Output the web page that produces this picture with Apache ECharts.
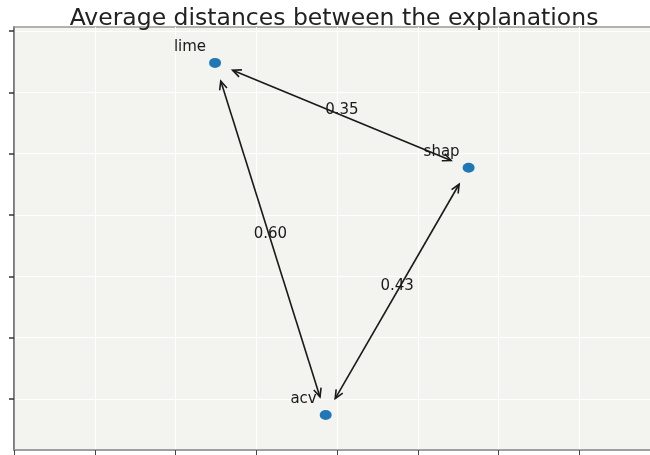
<!DOCTYPE html>
<html>
<head>
<meta charset="utf-8">
<script src="https://cdn.jsdelivr.net/npm/echarts@6/dist/echarts.min.js"></script>
<style>html,body{margin:0;padding:0;background:#fff}#c{width:650px;height:455px}</style>
</head>
<body>
<div id="c"></div>
<script>
// ---- data ----
var names = ['lime', 'shap', 'acv'];
var xs = [2.49, 5.63, 3.86];
var ys = [5.48, 3.77, -0.26];
var pairFrom = ['lime', 'lime', 'shap'];
var pairTo = ['shap', 'acv', 'acv'];
var distances = [0.35, 0.60, 0.43];
var xTicks = [0, 1, 2, 3, 4, 5, 6, 7, 8];
var yTicks = [0, 1, 2, 3, 4, 5, 6];

var FONT = 'DejaVu Sans';
var chart = echarts.init(document.getElementById('c'), null, {renderer: 'canvas'});

var pointData = names.map(function (n, i) { return {name: n, value: [xs[i], ys[i]]}; });
var arrowData = pairFrom.map(function (f, i) {
  var a = names.indexOf(f), b = names.indexOf(pairTo[i]);
  return [xs[a], ys[a], xs[b], ys[b], distances[i]];
});

function head(tip, dirx, diry) {
  var L = 8.5, W = 3.8;
  var px = -diry, py = dirx;
  return [
    [tip[0] - dirx * L + px * W, tip[1] - diry * L + py * W],
    tip,
    [tip[0] - dirx * L - px * W, tip[1] - diry * L - py * W]
  ];
}

var option = {
  animation: false,
  backgroundColor: '#ffffff',
  title: {
    text: 'Average distances between the explanations',
    left: 329, top: 2, textAlign: 'center',
    textStyle: {fontFamily: FONT, fontSize: 23.5, fontWeight: 'normal', color: '#222'}
  },
  grid: {
    left: 14, top: 27, width: 646, height: 423,
    outerBoundsMode: 'none', containLabel: false,
    show: true, backgroundColor: '#f3f3ef', borderColor: '#9a9a9a', borderWidth: 1.5
  },
  xAxis: {
    type: 'value', min: 0, max: 8, interval: 1,
    axisLine: {show: true, onZero: false, lineStyle: {color: '#9a9a9a', width: 1.5}},
    axisTick: {show: true, length: 5, lineStyle: {color: '#444', width: 1}, customValues: xTicks},
    axisLabel: {show: false},
    splitLine: {show: true, lineStyle: {color: '#ffffff', width: 1}, customValues: xTicks}
  },
  yAxis: {
    type: 'value', min: -0.83, max: 6.065,
    axisLine: {show: true, onZero: false, lineStyle: {color: '#666', width: 1.5}},
    axisTick: {show: true, length: 5, lineStyle: {color: '#333', width: 1.5}, customValues: yTicks},
    axisLabel: {show: false, customValues: yTicks},
    splitLine: {show: true, lineStyle: {color: '#ffffff', width: 1}, customValues: yTicks}
  },
  series: [
    {
      type: 'custom',
      data: arrowData,
      z: 3,
      renderItem: function (params, api) {
        var p1 = api.coord([api.value(0), api.value(1)]);
        var p2 = api.coord([api.value(2), api.value(3)]);
        var dx = p2[0] - p1[0], dy = p2[1] - p1[1];
        var len = Math.sqrt(dx * dx + dy * dy);
        var ux = dx / len, uy = dy / len;
        var s = 19;
        var a = [p1[0] + ux * s, p1[1] + uy * s];
        var b = [p2[0] - ux * s, p2[1] - uy * s];
        var mid = [(p1[0] + p2[0]) / 2, (p1[1] + p2[1]) / 2];
        var st = {stroke: '#1a1a1a', lineWidth: 1.6, fill: null};
        return {
          type: 'group',
          children: [
            {type: 'line', shape: {x1: a[0], y1: a[1], x2: b[0], y2: b[1]}, style: st},
            {type: 'polyline', shape: {points: head(a, -ux, -uy)}, style: st},
            {type: 'polyline', shape: {points: head(b, ux, uy)}, style: st},
            {type: 'text', x: mid[0], y: mid[1] - 5, style: {
              text: api.value(4).toFixed(2), fontFamily: FONT, fontSize: 15,
              fill: '#1a1a1a', align: 'center', verticalAlign: 'middle'}}
          ]
        };
      }
    },
    {
      type: 'scatter',
      data: pointData,
      symbol: 'circle',
      symbolSize: [12, 10],
      z: 4,
      itemStyle: {color: '#1f77b4', opacity: 1},
      label: {
        show: true, formatter: '{b}', position: [-3, -3],
        align: 'right', verticalAlign: 'bottom',
        fontFamily: FONT, fontSize: 15, color: '#1a1a1a'
      }
    }
  ]
};
chart.setOption(option);
</script>
</body>
</html>
